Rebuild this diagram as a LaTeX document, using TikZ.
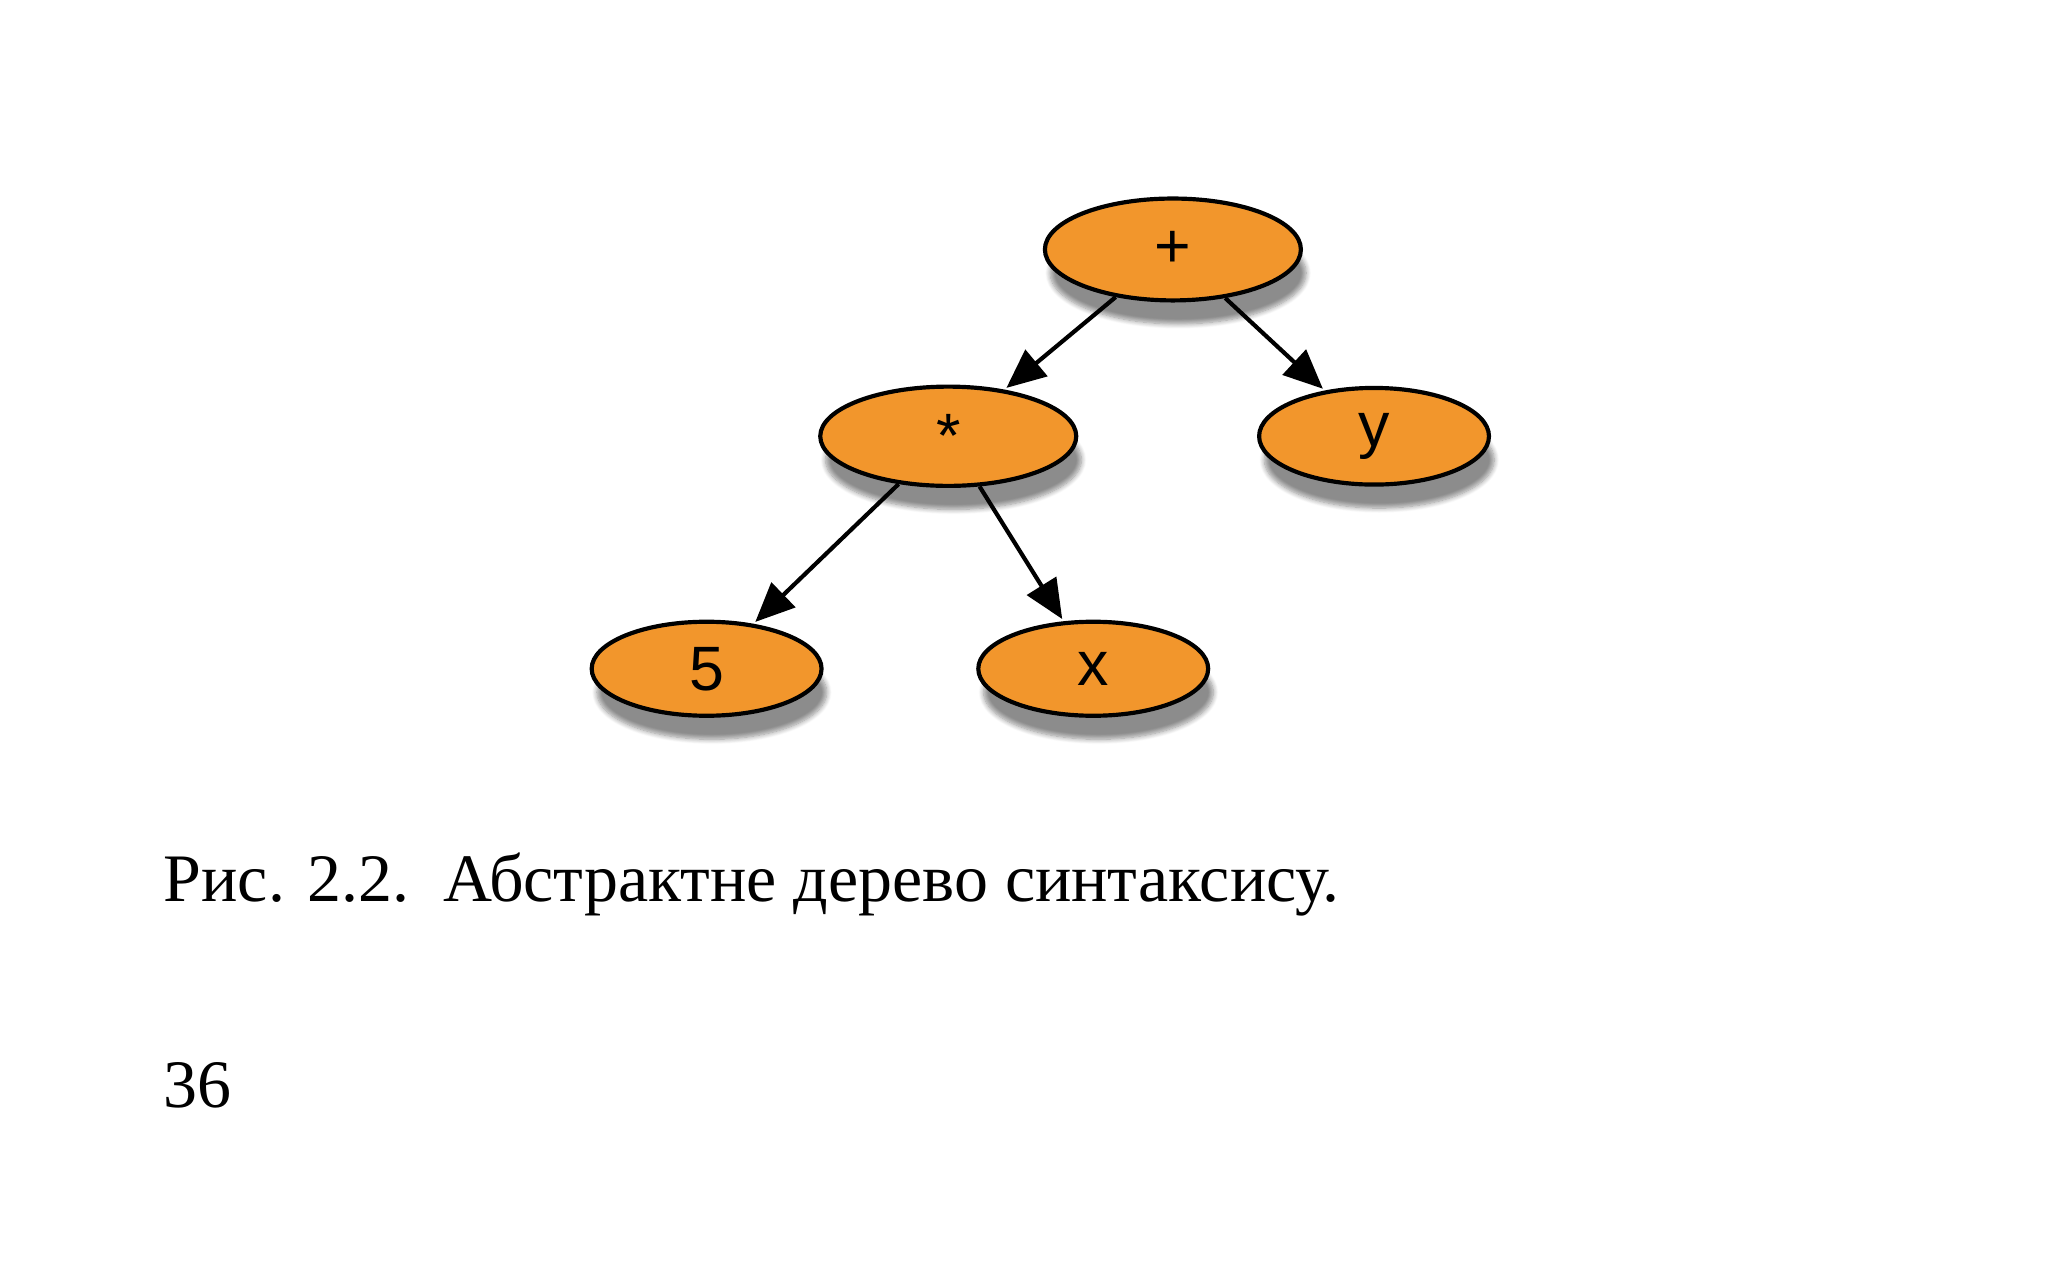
\documentclass[tikz,border=0pt]{standalone}
\usepackage{fontspec}
\setmainfont{Liberation Serif}
\newfontfamily\nodefont{Liberation Sans}
\usetikzlibrary{shapes.geometric,arrows.meta,shadows.blur}
\definecolor{orng}{HTML}{F2962C}
\begin{document}
\begin{tikzpicture}[x=0.5pt,y=-0.5pt,
  tnode/.style={ellipse,draw=black,line width=1.6pt,fill=orng,inner sep=0pt,
    font=\nodefont\fontsize{24}{24}\selectfont,
    blur shadow={shadow xshift=2pt,shadow yshift=-9pt,shadow blur steps=8,shadow opacity=45}},
  edge/.style={line width=1.6pt,-{Triangle[length=15pt,width=13pt]},shorten >=1pt}]
\useasboundingbox (0,0) rectangle (1568,981);
\node[tnode,minimum width=98pt,minimum height=39pt] (plus) at (898,191) {+};
\node[tnode,minimum width=98pt,minimum height=38pt] (mul) at (726,334) {*};
\node[tnode,minimum width=88pt,minimum height=37pt] (y) at (1052,334) {y};
\node[tnode,minimum width=88pt,minimum height=36pt] (five) at (541,512) {5};
\node[tnode,minimum width=88pt,minimum height=36pt] (x) at (837,512) {x};
\draw[edge] (plus) -- (mul);
\draw[edge] (plus) -- (y);
\draw[edge] (mul) -- (five);
\draw[edge] (mul) -- (x);
\node[anchor=base west,inner sep=0pt,font=\fontsize{26}{30}\selectfont] (cap) at (125,690)
  {Рис. 2.2.\ \ Абстрактне дерево синтаксису.};
\node[anchor=base west,inner sep=0pt,font=\fontsize{26}{30}\selectfont] (pg) at (125,848) {36};
\end{tikzpicture}
\end{document}
